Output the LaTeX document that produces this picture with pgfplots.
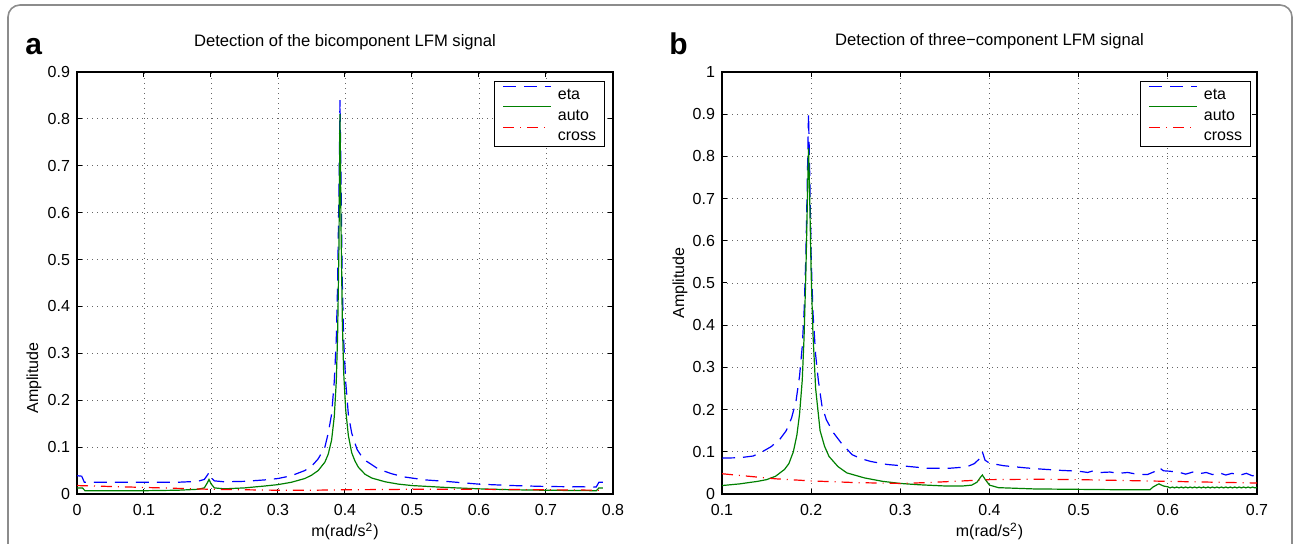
\documentclass[border=0pt]{standalone}
\usepackage{fontspec}
\setmainfont{Liberation Sans}
\usepackage{pgfplots}
\pgfplotsset{compat=1.18}
\definecolor{mblue}{rgb}{0,0,1}
\definecolor{mgreen}{rgb}{0,0.5,0}
\definecolor{mred}{rgb}{1,0,0}
\pgfplotsset{
 mat/.style={
  scale only axis, anchor=south west, height=211pt,
  axis line style={line width=0.7pt, black},
  every tick/.style={black, line width=0.5pt},
  major tick length=2.5pt,
  tick align=inside,
  grid=major,
  major grid style={black!60, line width=0.4pt, dash pattern=on 0.5pt off 2pt},
  /pgf/number format/assume math mode=true,
  ticklabel style={font=\fontsize{8}{9.6}\selectfont},
  xticklabel style={yshift=-1.8pt},
  yticklabel style={/pgf/number format/.cd, fixed, precision=1},
  xticklabel style={/pgf/number format/.cd, fixed, precision=1},
  label style={font=\fontsize{8}{9.6}\selectfont},
  title style={font=\fontsize{8.3}{10}\selectfont, at={(axis description cs:0.5,1)}, anchor=base, inner sep=0pt, yshift=7pt},
  xlabel={m(rad/s\textsuperscript{2})},
  ylabel={Amplitude},
  xlabel style={at={(axis description cs:0.5,0)}, anchor=base, yshift=-21.5pt},
  legend cell align=left,
  legend style={at={(axis description cs:1,1)}, anchor=north east, draw=black, line width=0.5pt, fill=white,
    font=\fontsize{8}{9.6}\selectfont, inner xsep=4.2pt, inner ysep=1.1pt, row sep=0pt, column sep=3pt,
    nodes={inner sep=0pt, text height=8.2pt, text depth=1.95pt}},
  legend image code/.code={\draw[#1] (0pt,3.5pt) -- (24pt,3.5pt);},
 },
 eta/.style={mblue, line width=0.6pt, dash pattern=on 6.5pt off 4pt},
 aut/.style={mgreen, line width=0.6pt, solid},
 crs/.style={mred, line width=0.6pt, dash pattern=on 5.5pt off 3pt on 0.5pt off 3pt},
}
\begin{document}
\begin{tikzpicture}
\useasboundingbox (0,0) rectangle (647pt,272pt);
\draw[black!45, line width=0.8pt, rounded corners=6pt] (4pt,-6pt) -- (4pt,269.5pt) -- (646pt,269.5pt) -- (646pt,-6pt);
\node[anchor=base west, inner sep=0pt, font=\fontsize{15}{18}\selectfont\bfseries] at (12.5pt,244.5pt) {a};
\node[anchor=base west, inner sep=0pt, font=\fontsize{15}{18}\selectfont\bfseries] at (334.5pt,244.5pt) {b};

\begin{axis}[mat, at={(38.5pt,25pt)}, width=268pt,
  xmin=0, xmax=0.8, ymin=0, ymax=0.9,
  xtick={0,0.1,0.2,0.3,0.4,0.5,0.6,0.7,0.8},
  ytick={0,0.1,0.2,0.3,0.4,0.5,0.6,0.7,0.8,0.9},
  title={Detection of the bicomponent LFM signal},
  ylabel style={at={(axis description cs:-0.0802,0.275)}, anchor=center},
  legend style={xshift=-4pt, yshift=-4.35pt}]
\addplot[eta] coordinates {(0,0.039)(0.007,0.038)(0.011,0.025)(0.05,0.025)(0.1,0.025)(0.15,0.025)(0.18,0.027)(0.19,0.031)(0.195,0.041)(0.197,0.046)(0.2,0.035)(0.205,0.028)(0.22,0.026)(0.25,0.027)(0.28,0.03)(0.3,0.033)(0.32,0.039)(0.34,0.05)(0.35,0.059)(0.36,0.075)(0.37,0.1)(0.375,0.13)(0.38,0.17)(0.384,0.24)(0.387,0.33)(0.389,0.45)(0.391,0.65)(0.3925,0.84)(0.394,0.68)(0.396,0.45)(0.398,0.33)(0.401,0.24)(0.405,0.17)(0.41,0.13)(0.418,0.095)(0.425,0.08)(0.432,0.07)(0.45,0.053)(0.47,0.043)(0.49,0.036)(0.52,0.03)(0.55,0.027)(0.6,0.021)(0.65,0.018)(0.7,0.016)(0.775,0.015)(0.779,0.025)(0.785,0.025)};
\addlegendentry{eta}
\addplot[aut] coordinates {(0,0.013)(0.008,0.013)(0.012,0.007)(0.05,0.007)(0.1,0.007)(0.15,0.008)(0.18,0.01)(0.19,0.013)(0.195,0.025)(0.197,0.031)(0.2,0.022)(0.205,0.013)(0.22,0.011)(0.25,0.013)(0.28,0.017)(0.3,0.02)(0.32,0.025)(0.34,0.033)(0.35,0.04)(0.36,0.05)(0.37,0.068)(0.375,0.085)(0.38,0.115)(0.384,0.165)(0.387,0.24)(0.389,0.34)(0.391,0.53)(0.3925,0.81)(0.394,0.58)(0.396,0.37)(0.398,0.26)(0.401,0.18)(0.405,0.125)(0.41,0.088)(0.415,0.07)(0.42,0.057)(0.43,0.042)(0.44,0.034)(0.46,0.026)(0.48,0.021)(0.5,0.018)(0.55,0.014)(0.6,0.011)(0.65,0.009)(0.7,0.008)(0.775,0.007)(0.779,0.013)(0.785,0.013)};
\addlegendentry{auto}
\addplot[crs] coordinates {(0,0.018)(0.05,0.016)(0.1,0.014)(0.15,0.012)(0.2,0.01)(0.25,0.009)(0.3,0.008)(0.35,0.008)(0.4,0.009)(0.5,0.01)(0.6,0.01)(0.7,0.009)(0.785,0.008)};
\addlegendentry{cross}
\end{axis}

\begin{axis}[mat, at={(361pt,25pt)}, width=267.5pt,
  xmin=0.1, xmax=0.7, ymin=0, ymax=1,
  xtick={0.1,0.2,0.3,0.4,0.5,0.6,0.7},
  ytick={0,0.1,0.2,0.3,0.4,0.5,0.6,0.7,0.8,0.9,1},
  title={Detection of three−component LFM signal},
  ylabel style={at={(axis description cs:-0.0785,0.5)}, anchor=center},
  legend style={xshift=-3pt, yshift=-4.35pt}]
\addplot[eta] coordinates {(0.1,0.085)(0.12,0.086)(0.135,0.09)(0.145,0.1)(0.155,0.112)(0.165,0.13)(0.172,0.15)(0.178,0.18)(0.183,0.22)(0.187,0.28)(0.19,0.35)(0.192,0.43)(0.194,0.56)(0.196,0.78)(0.197,0.9)(0.198,0.8)(0.2,0.56)(0.202,0.43)(0.205,0.33)(0.208,0.27)(0.212,0.21)(0.217,0.176)(0.225,0.145)(0.234,0.12)(0.246,0.093)(0.257,0.083)(0.267,0.077)(0.285,0.07)(0.301,0.067)(0.33,0.061)(0.355,0.061)(0.374,0.064)(0.383,0.072)(0.388,0.082)(0.392,0.1)(0.395,0.08)(0.4,0.073)(0.416,0.067)(0.44,0.062)(0.458,0.059)(0.48,0.056)(0.5,0.054)(0.51,0.051)(0.515,0.054)(0.525,0.051)(0.535,0.052)(0.545,0.049)(0.555,0.051)(0.565,0.047)(0.577,0.046)(0.585,0.053)(0.59,0.063)(0.595,0.055)(0.602,0.054)(0.61,0.052)(0.615,0.05)(0.62,0.047)(0.628,0.052)(0.635,0.048)(0.643,0.051)(0.65,0.046)(0.658,0.05)(0.665,0.045)(0.672,0.049)(0.68,0.044)(0.688,0.049)(0.695,0.043)(0.7,0.046)};
\addlegendentry{eta}
\addplot[aut] coordinates {(0.1,0.02)(0.12,0.024)(0.14,0.03)(0.15,0.034)(0.16,0.042)(0.17,0.058)(0.175,0.072)(0.18,0.1)(0.184,0.14)(0.187,0.19)(0.19,0.27)(0.192,0.37)(0.194,0.52)(0.196,0.72)(0.197,0.82)(0.198,0.74)(0.2,0.52)(0.202,0.38)(0.205,0.25)(0.208,0.19)(0.21,0.15)(0.215,0.113)(0.22,0.089)(0.23,0.065)(0.24,0.05)(0.26,0.038)(0.28,0.03)(0.3,0.025)(0.32,0.022)(0.35,0.019)(0.37,0.019)(0.38,0.021)(0.386,0.028)(0.39,0.04)(0.392,0.045)(0.395,0.035)(0.4,0.021)(0.41,0.015)(0.45,0.012)(0.5,0.011)(0.55,0.01)(0.58,0.01)(0.583,0.016)(0.588,0.022)(0.59,0.024)(0.595,0.019)(0.6,0.017)(0.6025,0.0145)(0.605,0.0165)(0.6075,0.0145)(0.61,0.0165)(0.6125,0.0145)(0.615,0.0165)(0.6175,0.0145)(0.62,0.0165)(0.6225,0.0145)(0.625,0.0165)(0.6275,0.0145)(0.63,0.0165)(0.6325,0.0145)(0.635,0.0165)(0.6375,0.0145)(0.64,0.0165)(0.6425,0.0145)(0.645,0.0165)(0.6475,0.0145)(0.65,0.0165)(0.6525,0.0145)(0.655,0.0165)(0.6575,0.0145)(0.66,0.0165)(0.6625,0.0145)(0.665,0.0165)(0.6675,0.0145)(0.67,0.0165)(0.6725,0.0145)(0.675,0.0165)(0.6775,0.0145)(0.68,0.0165)(0.6825,0.0145)(0.685,0.0165)(0.6875,0.0145)(0.69,0.0165)(0.6925,0.0145)(0.695,0.0165)(0.6975,0.0145)(0.7,0.0155)};
\addlegendentry{auto}
\addplot[crs] coordinates {(0.1,0.048)(0.13,0.042)(0.16,0.036)(0.2,0.031)(0.25,0.027)(0.3,0.025)(0.33,0.027)(0.37,0.031)(0.4,0.034)(0.45,0.035)(0.5,0.034)(0.55,0.032)(0.6,0.03)(0.65,0.028)(0.7,0.026)};
\addlegendentry{cross}
\end{axis}
\end{tikzpicture}
\end{document}
